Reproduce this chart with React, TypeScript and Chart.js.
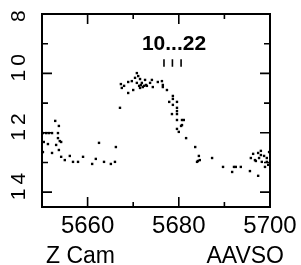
import React, { useEffect, useRef } from "react";
import { Chart, registerables } from "chart.js";

Chart.register(...registerables);

// Julian day (JD - 2440000) of each estimate and its visual magnitude
const days: number[] = [
  5650.2, 5650.9, 5651.5, 5652.2, 5652.9, 5653.7, 5653.5, 5653.5, 5653.9, 5654.2,
  5650.4, 5651.3, 5653.1, 5650.2, 5652.2, 5653.7, 5654.2, 5655.0, 5656.1, 5656.8,
  5657.9, 5659.0, 5661.0, 5661.8, 5662.5, 5663.6, 5665.1, 5666.0, 5666.2, 5667.1,
  5667.3, 5667.5, 5668.0, 5668.9, 5668.9, 5669.7, 5670.0, 5670.4, 5670.8, 5670.8,
  5671.1, 5671.5, 5671.5, 5671.9, 5672.1, 5672.6, 5673.0, 5673.7, 5674.1, 5674.3,
  5675.4, 5676.3, 5676.5, 5671.3, 5671.7, 5672.4, 5672.8, 5676.5, 5677.4, 5678.7,
  5678.7, 5677.9, 5679.6, 5678.7, 5679.6, 5679.6, 5678.5, 5679.6, 5679.6, 5680.7,
  5681.1, 5680.7, 5680.5, 5679.6, 5680.0, 5681.6, 5683.6, 5684.4, 5684.0, 5684.2,
  5684.6, 5687.3, 5689.7, 5691.7, 5692.1, 5692.5, 5693.6, 5695.6, 5697.4, 5695.8,
  5696.3, 5696.7, 5697.4, 5698.0, 5698.0, 5698.7, 5697.6, 5696.9, 5698.2, 5699.3,
  5699.3, 5699.6, 5698.9, 5699.8,
];
const mags: number[] = [
  12.01, 12.01, 12.01, 12.01, 11.6, 11.77, 12.01, 12.18, 12.28, 12.31,
  12.31, 12.38, 12.41, 12.65, 12.68, 12.58, 12.81, 12.92, 12.78, 12.98,
  12.98, 12.81, 13.05, 12.88, 12.34, 12.98, 13.05, 12.98, 12.48, 11.16,
  10.36, 10.49, 10.42, 10.66, 10.29, 10.26, 10.56, 10.15, 9.99, 10.32,
  10.09, 10.19, 10.49, 10.32, 10.46, 10.22, 10.42, 10.32, 10.22, 10.46,
  10.29, 10.26, 10.46, 10.42, 10.39, 10.42, 10.39, 10.39, 10.56, 10.76,
  10.86, 10.96, 10.96, 11.06, 11.16, 11.27, 11.37, 11.37, 11.57, 11.57,
  11.57, 11.74, 11.77, 11.87, 11.97, 12.18, 12.48, 12.78, 12.98, 12.95,
  12.92, 12.85, 13.15, 13.32, 13.15, 13.15, 13.15, 13.29, 13.45, 12.85,
  12.71, 12.92, 12.68, 12.61, 12.75, 12.78, 12.85, 12.95, 12.98, 12.98,
  12.85, 13.08, 13.15, 12.65,
];

const xTicks: number[] = [5650, 5660, 5670, 5680, 5690, 5700];
const xLabels: number[] = [5660, 5680, 5700];
const yTicks: number[] = [8, 9, 10, 11, 12, 13, 14];
const yLabels: number[] = [8, 10, 12, 14];
const markDays: number[] = [5676.75, 5678.6, 5680.5];
const markMags: number[] = [9.52, 9.78];
const titleText = "10...22";
const leftNote = "Z Cam";
const rightNote = "AAVSO";

const FONT = '"Liberation Sans", Arial, sans-serif';

const framePlugin = {
  id: "frame",
  afterDatasetsDraw(chart: any) {
    const { ctx, chartArea: a, scales } = chart;
    const xs = scales.x;
    const ys = scales.y;
    ctx.save();
    ctx.strokeStyle = "#000";
    ctx.fillStyle = "#000";
    ctx.lineWidth = 2;
    ctx.strokeRect(a.left, a.top, a.right - a.left, a.bottom - a.top);
    ctx.lineWidth = 1.6;
    ctx.beginPath();
    for (const v of xTicks) {
      const px = xs.getPixelForValue(v);
      const len = xLabels.includes(v) ? 10 : 5;
      ctx.moveTo(px, a.bottom);
      ctx.lineTo(px, a.bottom - len);
      ctx.moveTo(px, a.top);
      ctx.lineTo(px, a.top + len);
    }
    for (const v of yTicks) {
      const py = ys.getPixelForValue(v);
      const len = yLabels.includes(v) ? 10 : 6;
      ctx.moveTo(a.left, py);
      ctx.lineTo(a.left + len, py);
      ctx.moveTo(a.right, py);
      ctx.lineTo(a.right - len, py);
    }
    // date markers
    for (const d of markDays) {
      const px = xs.getPixelForValue(d);
      ctx.moveTo(px, ys.getPixelForValue(markMags[0]));
      ctx.lineTo(px, ys.getPixelForValue(markMags[1]));
    }
    ctx.stroke();

    // x labels
    ctx.font = `24px ${FONT}`;
    ctx.textAlign = "center";
    ctx.textBaseline = "alphabetic";
    for (const v of xLabels) {
      ctx.fillText(String(v), xs.getPixelForValue(v), 233);
    }
    // y labels, rotated
    ctx.font = `21px ${FONT}`;
    (ctx as any).letterSpacing = "4px";
    for (const v of yLabels) {
      const py = ys.getPixelForValue(v);
      ctx.save();
      ctx.translate(25, py + 8);
      ctx.rotate(-Math.PI / 2);
      ctx.textAlign = "left";
      ctx.fillText(String(v), 0, 0);
      ctx.restore();
    }
    (ctx as any).letterSpacing = "0px";
    // title
    ctx.font = `bold 21px ${FONT}`;
    ctx.textAlign = "center";
    ctx.fillText(titleText, 174, 50);
    // bottom notes
    ctx.font = `23px ${FONT}`;
    ctx.textAlign = "left";
    ctx.fillText(leftNote, 46, 263);
    ctx.textAlign = "right";
    ctx.fillText(rightNote, 284, 263);
    ctx.restore();
  },
};

export default function App() {
  const ref = useRef<HTMLCanvasElement | null>(null);
  useEffect(() => {
    if (!ref.current) return;
    const chart = new Chart(ref.current, {
      type: "scatter",
      data: {
        datasets: [
          {
            data: days.map((d, i) => ({ x: d, y: mags[i] })),
            pointStyle: "rect",
            pointRadius: 1.7,
            pointBorderWidth: 0,
            backgroundColor: "#000",
            borderColor: "#000",
          },
        ],
      },
      options: {
        responsive: false,
        animation: false,
        devicePixelRatio: 1,
        events: [],
        layout: { padding: { left: 42, top: 14, right: 31, bottom: 58 } },
        plugins: { legend: { display: false }, tooltip: { enabled: false } },
        scales: {
          x: { type: "linear", min: 5650, max: 5700, display: false },
          y: { type: "linear", min: 8, max: 14.5, reverse: true, display: false },
        },
      },
      plugins: [framePlugin],
    });
    return () => chart.destroy();
  }, []);
  return (
    <div style={{ position: "absolute", left: 0, top: 0, width: 301, height: 265, background: "#fff" }}>
      <canvas ref={ref} width={301} height={265} />
    </div>
  );
}
